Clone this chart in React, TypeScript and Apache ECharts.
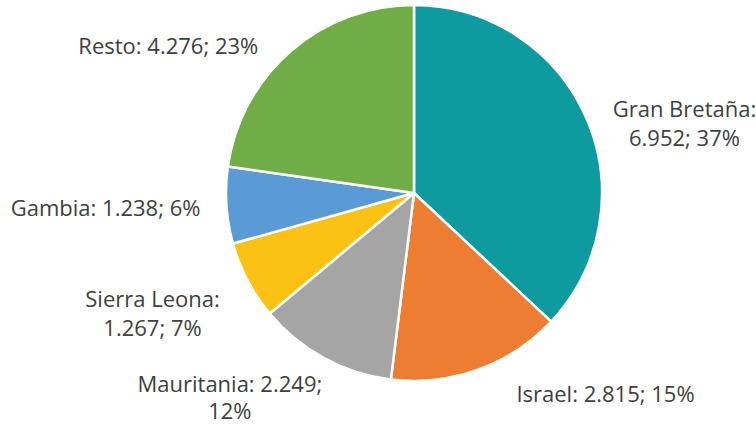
import React, { useEffect, useRef } from "react";
import * as echarts from "echarts";

const categories = ["Gran Bretaña", "Israel", "Mauritania", "Sierra Leona", "Gambia", "Resto"];
const values = [6952, 2815, 2249, 1267, 1238, 4276];
const colors = ["#0E9BA0", "#ED7D31", "#A5A5A5", "#FBC113", "#5B9BD5", "#70AD47"];
// where the label wraps: "name" = after the name, "value" = after the value, "" = no wrap
const wraps = ["name", "", "value", "name", "", ""];
// label nudges (px)
const labelOffsets = [
  [-4, 8],
  [14, 14],
  [24, 30],
  [2, 27],
  [5, 1],
  [-5, 2],
];

function fmt(v: number): string {
  return String(v).replace(/\B(?=(\d{3})+(?!\d))/g, ".");
}

export default function App() {
  const ref = useRef<HTMLDivElement>(null);
  useEffect(() => {
    if (!ref.current) return;
    const chart = echarts.init(ref.current, undefined, { renderer: "svg" });
    const base = {
      align: "center",
      color: "#404040",
      fontSize: 22,
      fontFamily: "Open Sans",
    };
    chart.setOption({
      animation: false,
      backgroundColor: "#ffffff",
      textStyle: { fontFamily: "Open Sans" },
      series: [
        {
          type: "pie",
          center: [414, 193],
          radius: [0, 188],
          startAngle: 90,
          clockwise: true,
          avoidLabelOverlap: false,
          percentPrecision: 0,
          itemStyle: { borderColor: "#ffffff", borderWidth: 2.5 },
          label: {
            show: true,
            position: "outside",
            color: "#404040",
            fontSize: 22,
            fontFamily: "Open Sans",
            lineHeight: 29,
            formatter: (p: any) => {
              const i = p.dataIndex;
              const name = p.name + ":";
              const val = fmt(p.value) + ";";
              const pct = Math.round(p.percent) + "%";
              let text: string;
              if (wraps[i] === "name") text = `{c|${name}}\n{c|${val} ${pct}}`;
              else if (wraps[i] === "value") text = `{m|${name} ${val}}\n{m|${pct}}`;
              else text = `{c|${name} ${val} ${pct}}`;
              return text;
            },
            rich: {
              c: { ...base, lineHeight: 29 },
              m: { ...base, lineHeight: 27 },
            },
          },
          labelLine: { show: false, length: 10, length2: 16 },
          labelLayout: (params: any) => {
            const o = labelOffsets[params.dataIndex] || [0, 0];
            return { dx: o[0], dy: o[1] };
          },
          emphasis: { disabled: true },
          data: categories.map((c, i) => ({
            name: c,
            value: values[i],
            itemStyle: { color: colors[i] },
          })),
        },
      ],
    });
    return () => chart.dispose();
  }, []);
  return (
    <div
      ref={ref}
      style={{ position: "fixed", left: 0, top: 0, width: 756, height: 425 }}
    />
  );
}
